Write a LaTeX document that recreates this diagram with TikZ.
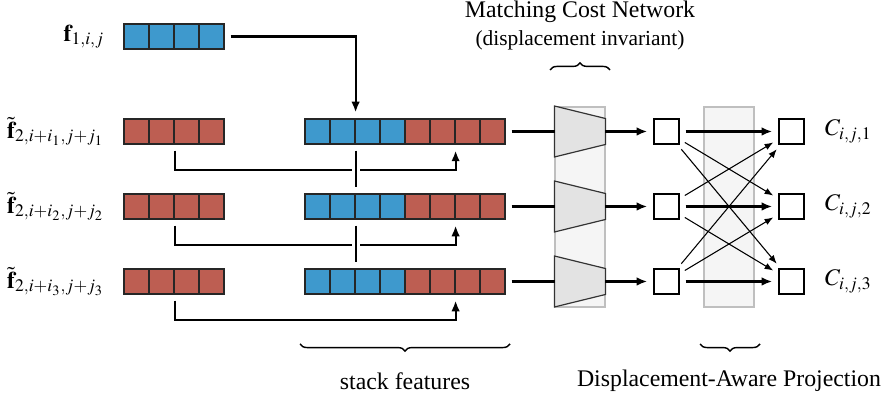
\documentclass[tikz,border=0pt]{standalone}
\usepackage{mathptmx}
\usepackage{fontspec}
\setmainfont{Liberation Serif}
\usetikzlibrary{positioning,decorations.pathreplacing,arrows.meta}

\definecolor{featblue}{RGB}{62,153,205}
\definecolor{featred}{RGB}{189,94,82}

\tikzset{
  cell/.style = {draw=black!85, line width=0.5pt, minimum size=10.5pt, inner sep=0pt},
  bluecell/.style = {cell, fill=featblue},
  redcell/.style = {cell, fill=featred},
  costbox/.style = {draw, fill=white, line width=0.6pt, minimum size=10.5pt, inner sep=0pt},
  column/.style = {draw=black!25, fill=black!4, line width=0.6pt, minimum width=21pt, minimum height=84pt, inner sep=0pt},
  conn/.style = {line width=0.9pt, shorten <=2.5pt, shorten >=2.5pt, >={Latex[length=4.5pt,width=3.6pt]}},
  thinconn/.style = {line width=0.45pt, shorten <=2.5pt, shorten >=2.5pt, >={Latex[length=3.6pt,width=2.8pt]}},
  bridge/.style = {preaction={draw, white, line width=3.4pt}},
  brace/.style = {decorate, decoration={brace, amplitude=3pt}, line width=0.6pt},
}

\begin{document}
\begin{tikzpicture}[x=0.42pt, y=0.42pt]
\useasboundingbox (0,0) rectangle (882,398);

% grey columns behind the cost network and the projection
\node[column] (mc) at (580,191) {};
\node[column] (pc) at (729,191) {};

% reference feature
\foreach \c in {0,...,3}
  \node[bluecell] (f-\c) at (136.5+25*\c,361.5) {};
\node[left=4.5pt of f-0] (lf) {$\mathbf{f}_{1,i,j}$};

\foreach \k/\y in {1/266.5, 2/191.5, 3/116.5} {
  % displaced features
  \foreach \c in {0,...,3}
    \node[redcell] (r\k-\c) at (136.5+25*\c,\y) {};
  \node[left=4.5pt of r\k-0] (lr\k) {$\tilde{\mathbf{f}}_{2,i+i_\k,j+j_\k}$};
  % stacked pair
  \foreach \c in {0,...,3}
    \node[bluecell] (s\k-\c) at (317.5+25*\c,\y) {};
  \foreach \c in {4,...,7}
    \node[redcell] (s\k-\c) at (317.5+25*\c,\y) {};
  % matching cost network
  \node[minimum width=21pt, minimum height=21pt, inner sep=0pt] (t\k) at (580,\y) {};
  \draw[fill=black!11, draw=black!80, line width=0.5pt] (t\k.north west)
    -- ([yshift=-5.25pt]t\k.north east) -- ([yshift=5.25pt]t\k.south east)
    -- (t\k.south west) -- cycle;
  % costs before and after projection
  \node[costbox] (m\k) at (666.5,\y) {};
  \node[costbox] (c\k) at (791.5,\y) {};
  \node[right=5pt of c\k] (lc\k) {$C_{i,j,\k}$};

  \draw[conn,->] (r\k-1.south east) -- ++(0,-25) -| (s\k-5.south east);
  \draw[conn, shorten >=0pt] (s\k-7.east) -- (t\k.west);
  \draw[conn,->, shorten <=0pt] (t\k.east) -- (m\k.west);
  \draw[conn,->] (m\k) -- (c\k);
}

% copies of the reference feature
\draw[conn,->] (f-3.east) -| (s1-1.north east);
\draw[conn,bridge] (s1-1.south east) -- (s2-1.north east);
\draw[conn,bridge] (s2-1.south east) -- (s3-1.north east);

% projection mixes all displacements
\foreach \a in {1,2,3}
  \foreach \b in {1,2,3} {
    \ifnum\a=\b\else
      \draw[thinconn,->] (m\a) -- (c\b);
    \fi
  }

% braces and captions
\draw[brace] (550,328) -- (610,328);
\draw[brace] (510,54) -- (300,54);
\draw[brace] (760,54) -- (700,54);
\node (mcn) at (580,386) {Matching Cost Network};
\node[font=\small] (mcd) at (580,358) {(displacement invariant)};
\node (sf) at (405,17) {stack features};
\node (dap) at (729,17) {Displacement-Aware Projection};
\end{tikzpicture}
\end{document}
